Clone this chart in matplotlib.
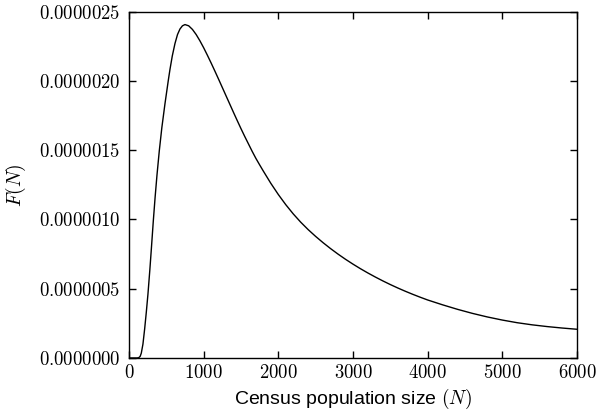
import numpy as np
import matplotlib
matplotlib.use("Agg")
import matplotlib.pyplot as plt
from matplotlib.ticker import FuncFormatter

# values (N, F(N) in units of 1e-6)
pop_size = [0, 100, 130, 150, 165, 187, 210, 232, 254, 280, 300, 326, 350, 375,
            406, 440, 482, 527, 549, 580, 616, 650, 683, 716, 750, 800, 850,
            900, 950, 1000, 1050, 1100, 1150, 1200, 1250, 1300, 1350, 1400,
            1450, 1500, 1550, 1600, 1650, 1700, 1750, 1800, 1900, 2000, 2100,
            2200, 2300, 2400, 2500, 2600, 2700, 2800, 2900, 3000, 3100, 3200,
            3300, 3400, 3500, 3600, 3700, 3800, 3900, 4000, 4200, 4400, 4600,
            4800, 5000, 5200, 5400, 5600, 5800, 6000]
density_e6 = [0, 0, 0.002, 0.012, 0.035, 0.1, 0.21, 0.33, 0.46, 0.64, 0.79,
              0.99, 1.16, 1.32, 1.495, 1.662, 1.835, 2.005, 2.083, 2.18, 2.27,
              2.335, 2.375, 2.398, 2.407, 2.398, 2.372, 2.335, 2.29, 2.24,
              2.186, 2.13, 2.072, 2.013, 1.953, 1.893, 1.833, 1.773, 1.714,
              1.656, 1.6, 1.546, 1.492, 1.441, 1.3945, 1.349, 1.261, 1.1805,
              1.107, 1.0405, 0.9807, 0.9269, 0.8779, 0.8324, 0.7899, 0.7501,
              0.7128, 0.6778, 0.6448, 0.6138, 0.5845, 0.5567, 0.5304, 0.5056,
              0.4822, 0.46, 0.439, 0.419, 0.384, 0.3515, 0.3222, 0.2964, 0.274,
              0.2548, 0.2395, 0.227, 0.2165, 0.2075]

x_ticks = [0, 1000, 2000, 3000, 4000, 5000, 6000]
y_ticks = [0, 0.5e-6, 1.0e-6, 1.5e-6, 2.0e-6, 2.5e-6]

plt.rcParams['mathtext.fontset'] = 'cm'
plt.rcParams['font.family'] = ['Liberation Sans', 'DejaVu Sans']

fig = plt.figure(figsize=(5.96, 4.16), dpi=100)
ax = fig.add_axes([0.2164, 0.1394, 0.7516, 0.8325])

F = np.array(density_e6) * 1e-6
ax.plot(pop_size, F, color='black', linewidth=1.0)

ax.set_xlim(0, 6000)
ax.set_ylim(0, 2.5e-6)
ax.set_xticks(x_ticks)
ax.set_yticks(y_ticks)
ax.xaxis.set_major_formatter(FuncFormatter(lambda v, p: r"$%d$" % v))
ax.yaxis.set_major_formatter(FuncFormatter(lambda v, p: r"$%.7f$" % v))
ax.tick_params(direction='in', top=True, right=True, length=5, width=1,
               labelsize=13.5)
ax.tick_params(axis='x', pad=4)
ax.tick_params(axis='y', pad=6)
for s in ax.spines.values():
    s.set_linewidth(1.0)

ax.set_xlabel(r"Census population size $(N)$", fontsize=14, labelpad=4)
ax.set_ylabel(r"$F(N)$", fontsize=14, labelpad=8)

fig.savefig("out.png", dpi=100)
